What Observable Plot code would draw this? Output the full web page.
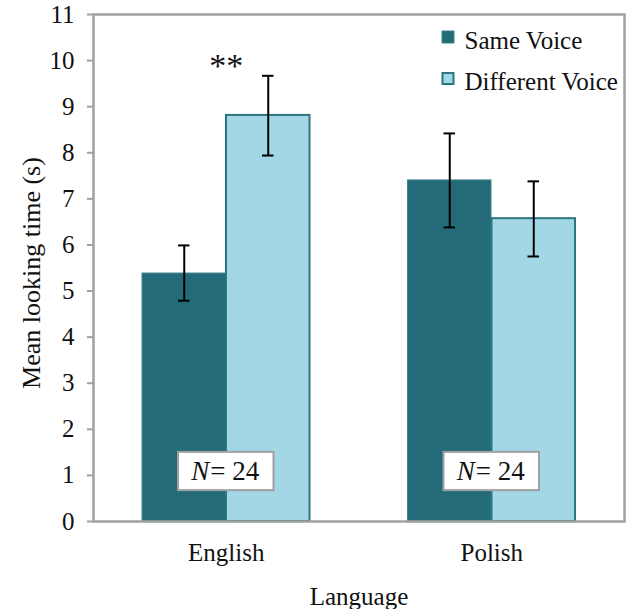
<!DOCTYPE html>
<html>
<head>
<meta charset="utf-8">
<script src="https://cdn.jsdelivr.net/npm/d3@7"></script>
<script src="https://cdn.jsdelivr.net/npm/@observablehq/plot@0.6"></script>
<style>
  html, body { margin: 0; padding: 0; background: #fff; }
  #chart svg { display: block; }
</style>
</head>
<body>
<div id="chart"></div>
<script>
// ---- data ----
const languages = ["English", "Polish"];
const seriesNames = ["Same Voice", "Different Voice"];
const sameMean = [5.38, 7.40];
const sameLo = [4.79, 6.38];
const sameHi = [5.99, 8.42];
const diffMean = [8.81, 6.57];
const diffLo = [7.94, 5.75];
const diffHi = [9.67, 7.38];
const sampleN = [24, 24];
const nBoxLo = 0.67, nBoxHi = 1.50;
const sigLabels = [{language: "English", label: "**", y: 9.87}];
const yTicks = [0, 1, 2, 3, 4, 5, 6, 7, 8, 9, 10, 11];

const same = languages.map((l, i) => ({language: l, mean: sameMean[i], lo: sameLo[i], hi: sameHi[i]}));
const diff = languages.map((l, i) => ({language: l, mean: diffMean[i], lo: diffLo[i], hi: diffHi[i]}));
const nBoxes = languages.map((l, i) => ({language: l, n: sampleN[i], y1: nBoxLo, y2: nBoxHi, y: (nBoxLo + nBoxHi) / 2}));

const darkFill = "#246b79", darkStroke = "#3f8692";
const lightFill = "#a3d7e5", lightStroke = "#2d7582";
const gray = "#a0a0a0";
const serif = "Liberation Serif";

const chart = Plot.plot({
  width: 627,
  height: 609,
  marginLeft: 93,
  marginRight: 3,
  marginTop: 14,
  marginBottom: 88,
  style: {color: "#111", background: "#fff"},
  x: {domain: languages, padding: 0, round: false, axis: null},
  y: {domain: [0, 11], axis: null},
  marks: [
    Plot.barY(same, {x: "language", y: "mean", fill: darkFill, stroke: darkStroke, strokeWidth: 1, insetLeft: 49, insetRight: 133}),
    Plot.barY(diff, {x: "language", y: "mean", fill: lightFill, stroke: lightStroke, strokeWidth: 2, insetLeft: 133, insetRight: 49}),
    Plot.ruleX(same, {x: "language", y1: "lo", y2: "hi", dx: -42, stroke: "#000", strokeWidth: 2}),
    Plot.tickY(same, {x: "language", y: "hi", dx: -42, insetLeft: 127, insetRight: 127, stroke: "#000", strokeWidth: 2}),
    Plot.tickY(same, {x: "language", y: "lo", dx: -42, insetLeft: 127, insetRight: 127, stroke: "#000", strokeWidth: 2}),
    Plot.ruleX(diff, {x: "language", y1: "lo", y2: "hi", dx: 42, stroke: "#000", strokeWidth: 2}),
    Plot.tickY(diff, {x: "language", y: "hi", dx: 42, insetLeft: 127, insetRight: 127, stroke: "#000", strokeWidth: 2}),
    Plot.tickY(diff, {x: "language", y: "lo", dx: 42, insetLeft: 127, insetRight: 127, stroke: "#000", strokeWidth: 2}),
    Plot.barY(nBoxes, {x: "language", y1: "y1", y2: "y2", fill: "#fff", stroke: gray, strokeWidth: 2, insetLeft: 85, insetRight: 85}),
    Plot.text(nBoxes, {x: "language", y: "y", text: () => "N", textAnchor: "end", dx: -17, fontSize: 27, fontStyle: "italic", fill: "#111", fontFamily: serif}),
    Plot.text(nBoxes, {x: "language", y: "y", text: d => "= " + d.n, textAnchor: "start", dx: -16, fontSize: 27, fill: "#111", fontFamily: serif}),
    Plot.text(sigLabels, {x: "language", y: "y", text: "label", fontSize: 34, fill: "#111", fontFamily: serif}),
    Plot.frame({stroke: gray, strokeWidth: 2.5}),
    Plot.axisY({ticks: yTicks, tickSize: 6, tickPadding: 13, stroke: gray, strokeWidth: 2, fontSize: 25, label: null, tickFormat: d => String(d), fontFamily: serif, fill: "#111"}),
    Plot.axisX({tickSize: 0, tickPadding: 22, fontSize: 25, label: null, fontFamily: serif, fill: "#111"}),
    Plot.text(["Mean looking time (s)"], {frameAnchor: "left", rotate: -90, dx: -62, dy: 5, textAnchor: "middle", lineAnchor: "middle", fontSize: 26, fill: "#111", fontFamily: serif}),
    Plot.text(["Language"], {frameAnchor: "bottom", dy: 75, lineAnchor: "middle", fontSize: 25, fill: "#111", fontFamily: serif}),
    Plot.dot([seriesNames[0]], {frameAnchor: "top-left", dx: 354.5, dy: 22.5, symbol: "square", r: 6.8, fill: darkFill, stroke: darkStroke, strokeWidth: 1}),
    Plot.dot([seriesNames[1]], {frameAnchor: "top-left", dx: 354.5, dy: 64, symbol: "square", r: 6.2, fill: lightFill, stroke: lightStroke, strokeWidth: 2}),
    Plot.text([seriesNames[0]], {frameAnchor: "top-left", dx: 371, dy: 26, textAnchor: "start", lineAnchor: "middle", fontSize: 25, fill: "#111", fontFamily: serif}),
    Plot.text([seriesNames[1]], {frameAnchor: "top-left", dx: 371, dy: 67, textAnchor: "start", lineAnchor: "middle", fontSize: 25, fill: "#111", fontFamily: serif})
  ]
});

document.getElementById("chart").appendChild(chart);
</script>
</body>
</html>
